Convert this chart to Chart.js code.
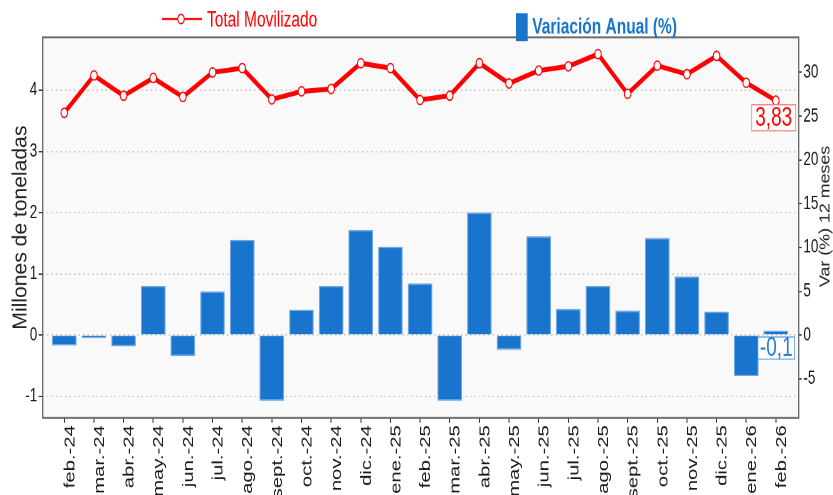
<!DOCTYPE html>
<html lang="es">
<head>
<meta charset="UTF-8">
<title>Total Movilizado</title>
<script src="https://cdn.jsdelivr.net/npm/chart.js@4.4.1/dist/chart.umd.min.js"></script>
<style>
  html, body { margin: 0; padding: 0; background: #fff; overflow: hidden; }
  /* the original picture is stretched vertically, so the chart is drawn flatter and scaled */
  #wrap { position: absolute; left: 0; top: 0; width: 833px; height: 354px;
          transform: scaleY(1.39831); transform-origin: 0 0; }
</style>
</head>
<body>
<div id="wrap"><canvas id="chart"></canvas></div>
<script>
// datos
const meses = ["feb.-24", "mar.-24", "abr.-24", "may.-24", "jun.-24", "jul.-24", "ago.-24",
  "sept.-24", "oct.-24", "nov.-24", "dic.-24", "ene.-25", "feb.-25", "mar.-25", "abr.-25",
  "may.-25", "jun.-25", "jul.-25", "ago.-25", "sept.-25", "oct.-25", "nov.-25", "dic.-25",
  "ene.-26", "feb.-26"];
// millones de toneladas
const totalMovilizado = [3.63, 4.24, 3.91, 4.20, 3.89, 4.29, 4.36, 3.85, 3.98, 4.02, 4.44, 4.36,
  3.84, 3.91, 4.44, 4.11, 4.32, 4.39, 4.59, 3.94, 4.40, 4.26, 4.56, 4.12, 3.83];
// variación anual (%)
const variacionAnual = [-1.2, -0.35, -1.3, 5.6, -2.4, 5.0, 10.9, -7.5, 2.9, 5.6, 12.0, 10.1,
  5.9, -7.5, 14.0, -1.7, 11.3, 3.0, 5.6, 2.8, 11.1, 6.7, 2.7, -4.7, 0.5];
const ticksIzq = [-1, 0, 1, 2, 3, 4];
const ticksDer = [-5, 0, 5, 10, 15, 20, 25, 30];
const etiquetaVar = "-0,1";

const ROJO = "#ff0000";
const AZUL = "#1874cd";
const FUENTE = "'Liberation Sans', Arial, sans-serif";

// texto vertical, comprimido a lo largo
function textoVertical(ctx, txt, x, y, size, largo) {
  ctx.save();
  ctx.translate(x, y);
  ctx.rotate(-Math.PI / 2);
  ctx.font = size + "px " + FUENTE;
  const w = ctx.measureText(txt).width;
  ctx.scale(largo / w, 1);
  ctx.fillText(txt, 0, 0);
  ctx.restore();
}

/* fondo, marco, títulos, leyenda y etiquetas */
const decorado = {
  id: "decorado",
  beforeDraw(chart) {
    const { ctx, chartArea: a } = chart;
    ctx.save();
    ctx.fillStyle = "#f9f9f9";
    ctx.fillRect(a.left, a.top, a.right - a.left, a.bottom - a.top);
    ctx.restore();
  },
  afterDraw(chart) {
    const { ctx, chartArea: a } = chart;
    ctx.save();

    // marco
    ctx.strokeStyle = "#666";
    ctx.lineWidth = 1.3;
    ctx.strokeRect(a.left, a.top, a.right - a.left, a.bottom - a.top);

    // títulos de ejes
    const mid = (a.top + a.bottom) / 2;
    ctx.fillStyle = "#222";
    ctx.textAlign = "center";
    ctx.textBaseline = "middle";
    textoVertical(ctx, "Millones de toneladas", 21, mid, 20, 146);
    textoVertical(ctx, "Var (%) 12 meses", 825.5, mid - 8, 14.5, 101);

    // leyenda
    ctx.strokeStyle = ROJO;
    ctx.lineWidth = 1.5;
    ctx.beginPath();
    ctx.moveTo(162, 13.6);
    ctx.lineTo(202, 13.6);
    ctx.stroke();
    ctx.beginPath();
    ctx.arc(181, 13.6, 3.3, 0, Math.PI * 2);
    ctx.fillStyle = "#fff";
    ctx.fill();
    ctx.lineWidth = 1;
    ctx.stroke();
    ctx.textAlign = "left";
    ctx.textBaseline = "alphabetic";
    ctx.fillStyle = ROJO;
    ctx.font = "15.5px " + FUENTE;
    ctx.fillText("Total Movilizado", 207, 18.8);

    ctx.fillStyle = AZUL;
    ctx.fillRect(516, 9.5, 11.7, 20);
    ctx.font = "bold 15.5px " + FUENTE;
    ctx.fillText("Variación Anual (%)", 532.3, 24);

    // etiquetas del último mes
    const n = meses.length - 1;
    const pt = chart.getDatasetMeta(1).data[n];
    const bar = chart.getDatasetMeta(0).data[n];
    const y0 = chart.scales.y.getPixelForValue(0);
    ctx.font = "19px " + FUENTE;
    ctx.textAlign = "center";
    ctx.textBaseline = "middle";

    const txt1 = totalMovilizado[n].toFixed(2).replace(".", ",");
    const w1 = ctx.measureText(txt1).width + 7;
    const cx1 = Math.min(pt.x, a.right - 3 - w1 / 2);
    const top1 = pt.y + 3;
    ctx.fillStyle = "#fff";
    ctx.fillRect(cx1 - w1 / 2, top1, w1, 18.6);
    ctx.strokeStyle = "#ff7a7a";
    ctx.lineWidth = 0.8;
    ctx.strokeRect(cx1 - w1 / 2, top1, w1, 18.6);
    ctx.fillStyle = ROJO;
    ctx.fillText(txt1, cx1, top1 + 9.8);

    const w2 = ctx.measureText(etiquetaVar).width + 4;
    const cx2 = bar.x + 0.4;
    const top2 = y0 + 1.4;
    ctx.fillStyle = "#fff";
    ctx.fillRect(cx2 - w2 / 2, top2, w2, 15.8);
    ctx.strokeStyle = "#5b9be0";
    ctx.strokeRect(cx2 - w2 / 2, top2, w2, 15.8);
    ctx.fillStyle = "#2a7fd4";
    ctx.fillText(etiquetaVar, cx2, top2 + 8.4);

    ctx.restore();
  }
};

const GRID = "#c8c8c8";

new Chart(document.getElementById("chart"), {
  type: "bar",
  data: {
    datasets: [
      {
        type: "bar",
        label: "Variación Anual (%)",
        data: variacionAnual.map((v, i) => ({ x: i, y: v })),
        yAxisID: "y2",
        backgroundColor: AZUL,
        borderColor: "#6fa6e4",
        borderWidth: 1,
        categoryPercentage: 1,
        barPercentage: 0.83,
        order: 2
      },
      {
        type: "line",
        label: "Total Movilizado",
        data: totalMovilizado.map((v, i) => ({ x: i, y: v })),
        yAxisID: "y",
        borderColor: ROJO,
        borderWidth: 3.5,
        pointRadius: 3.3,
        pointBorderWidth: 1,
        pointBackgroundColor: "#fff",
        pointBorderColor: ROJO,
        tension: 0,
        order: 1
      }
    ]
  },
  options: {
    responsive: true,
    maintainAspectRatio: false,
    devicePixelRatio: 2,
    animation: false,
    layout: { padding: { top: 26.7, left: 0, right: 0, bottom: 0 } },
    plugins: { legend: { display: false }, tooltip: { enabled: false } },
    scales: {
      x: {
        type: "linear",
        min: -0.728,
        max: 24.77,
        offset: false,
        afterBuildTicks: s => { s.ticks = meses.map((_, i) => ({ value: i })); },
        afterFit: s => { s.height = 55.2; },
        grid: { offset: false, drawOnChartArea: false, tickLength: 3.6, tickColor: "#333", tickWidth: 1 },
        border: { display: false },
        ticks: {
          callback: v => meses[v],
          autoSkip: false,
          minRotation: 90,
          maxRotation: 90,
          labelOffset: 6,
          padding: 1.6,
          color: "#1a1a1a",
          font: { family: FUENTE, size: 14.5 }
        }
      },
      y: {
        position: "left",
        min: -1.352,
        max: 4.863,
        afterBuildTicks: s => { s.ticks = ticksIzq.map(v => ({ value: v })); },
        afterFit: s => { s.width = 42.7; },
        grid: { color: GRID, lineWidth: 1, borderDash: [1.5, 3], tickBorderDash: [],
                tickLength: 4, tickColor: "#333", tickWidth: 1 },
        border: { display: false, dash: [1.5, 3] },
        ticks: { padding: 1.5, color: "#1a1a1a", font: { family: FUENTE, size: 13.5 } }
      },
      y2: {
        position: "right",
        min: -9.45,
        max: 34.0,
        afterBuildTicks: s => { s.ticks = ticksDer.map(v => ({ value: v })); },
        afterFit: s => { s.width = 34.3; },
        grid: { drawOnChartArea: false, tickLength: 3, tickColor: "#333", tickWidth: 1 },
        border: { display: false },
        ticks: { padding: 1.7, color: "#1a1a1a", font: { family: FUENTE, size: 13.5 } }
      }
    }
  },
  plugins: [decorado]
});
</script>
</body>
</html>
